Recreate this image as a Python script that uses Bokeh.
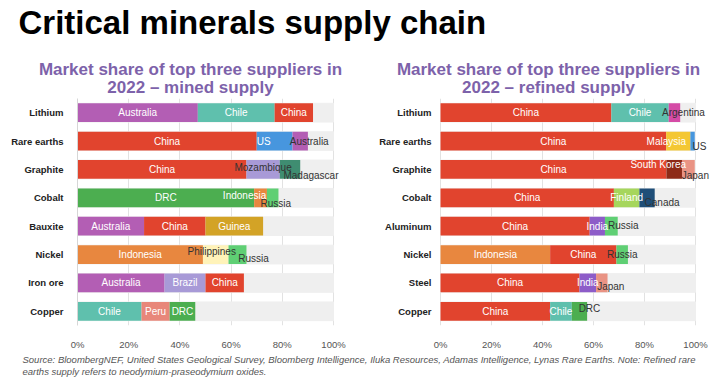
from bokeh.plotting import figure
from bokeh.layouts import column
from bokeh.models import Range1d, FactorRange, ColumnDataSource, Label, FixedTicker
from bokeh.core.properties import value
from bokeh.embed import file_html
from bokeh.resources import INLINE

# ---------------- data ----------------
title_text = "Critical minerals supply chain"
left_title = ["Market share of top three suppliers in", "2022 \u2013 mined supply"]
right_title = ["Market share of top three suppliers in", "2022 \u2013 refined supply"]
source_lines = [
    "Source: BloombergNEF, United States Geological Survey, Bloomberg Intelligence, Iluka Resources, "
    "Adamas Intelligence, Lynas Rare Earths. Note: Refined rare",
    "earths supply refers to neodymium-praseodymium oxides.",
]

left_minerals = ["Lithium", "Rare earths", "Graphite", "Cobalt", "Bauxite", "Nickel", "Iron ore", "Copper"]
left_countries = [
    ["Australia", "Chile", "China"],
    ["China", "US", "Australia"],
    ["China", "Mozambique", "Madagascar"],
    ["DRC", "Indonesia", "Russia"],
    ["Australia", "China", "Guinea"],
    ["Indonesia", "Philippines", "Russia"],
    ["Australia", "Brazil", "China"],
    ["Chile", "Peru", "DRC"],
]
left_shares = [
    [47, 30, 15],
    [70, 14, 6],
    [66, 13, 8],
    [69, 5, 4.5],
    [26, 24, 22.5],
    [49, 10, 7],
    [34, 16, 15],
    [25, 11, 10],
]

right_minerals = ["Lithium", "Rare earths", "Graphite", "Cobalt", "Aluminum", "Nickel", "Steel", "Copper"]
right_countries = [
    ["China", "Chile", "Argentina"],
    ["China", "Malaysia", "US"],
    ["China", "South Korea", "Japan"],
    ["China", "Finland", "Canada"],
    ["China", "India", "Russia"],
    ["Indonesia", "China", "Russia"],
    ["China", "India", "Japan"],
    ["China", "Chile", "DRC"],
]
right_shares = [
    [67, 22.5, 4.5],
    [88.5, 9.5, 1.7],
    [88.6, 6.1, 5],
    [68, 10, 6],
    [58.5, 6, 5],
    [43, 26, 4.5],
    [54.5, 6.5, 4.5],
    [43, 8.5, 6],
]

pct_ticks = [0, 20, 40, 60, 80, 100]

# ---------------- styles ----------------
country_colors = {
    "China": "#e1442e", "Australia": "#b35eb4", "Chile": "#5fc0ad", "US": "#4796de",
    "Mozambique": "#a89ad7", "Brazil": "#a89ad7", "Madagascar": "#3f8d71", "DRC": "#4cae50",
    "Indonesia": "#e8873f", "Russia": "#5fcf74", "Guinea": "#d3a326", "Philippines": "#fff3b9",
    "Peru": "#e8877a", "Argentina": "#d54ba6", "Malaysia": "#f4c733", "South Korea": "#8d2a17",
    "Japan": "#e99384", "Finland": "#a6d65c", "Canada": "#1f4e78", "India": "#8d5cc8",
}
# label placement tweaks: (kind, dx px, dy px); default = white, centred
label_style = {
    ("L", "Rare earths", "US"): ("w", -11, 0),
    ("L", "Rare earths", "Australia"): ("d", 9, 0),
    ("L", "Graphite", "Mozambique"): ("d", 0, -2),
    ("L", "Graphite", "Madagascar"): ("d", 21, 6),
    ("L", "Cobalt", "Indonesia"): ("w", -16, -2),
    ("L", "Cobalt", "Russia"): ("d", 3, 6),
    ("L", "Nickel", "Philippines"): ("d", -4, -3),
    ("L", "Nickel", "Russia"): ("d", 16, 4),
    ("R", "Lithium", "Argentina"): ("d", 9, 0),
    ("R", "Rare earths", "Malaysia"): ("w", -12, 0),
    ("R", "Rare earths", "US"): ("d", 7, 5),
    ("R", "Graphite", "South Korea"): ("w", -16, -5),
    ("R", "Graphite", "Japan"): ("d", 7, 6),
    ("R", "Cobalt", "Canada"): ("d", 15, 5),
    ("R", "Aluminum", "Russia"): ("d", 12, -1),
    ("R", "Nickel", "Russia"): ("d", 0, 0),
    ("R", "Steel", "Japan"): ("d", 9, 4),
    ("R", "Copper", "DRC"): ("d", 10, -3),
}
FONT = value("Liberation Sans")
WHITE, DARK = "#ffffff", "#333333"
PURPLE = "#7d62aa"

# ---------------- geometry ----------------
W = 719
HEAD_H, FOOT_H = 98, 27
BL, BR, BT, BB = 77, 8, 0, 20
FH = 234
MAIN_H = BT + FH + BB
FW = W - BL - BR
L_PX = 2.56          # px per % (left chart)
R_PX = 2.55          # px per % (right chart)
R_ZERO = 363         # px from frame left where right chart starts


def blank(h):
    f = figure(width=W, height=h, x_range=Range1d(0, W), y_range=Range1d(h, 0),
               x_axis_type=None, y_axis_type=None, output_backend="svg",
               toolbar_location=None, min_border=0, frame_align=False)
    f.outline_line_color = None
    f.grid.visible = False
    return f


# ---------------- header ----------------
head = blank(HEAD_H)
head.add_layout(Label(x=18, y=22, text=title_text, text_font="Liberation Sans",
                      text_font_style="bold", text_font_size="33px", text_color="#000000",
                      text_baseline="alphabetic", text_align="left"))
for lines, cx in ((left_title, 190), (right_title, 548)):
    for line, base in zip(lines, (68.5, 86.5)):
        head.add_layout(Label(x=cx, y=base, text=line, text_font="Liberation Sans",
                              text_font_style="bold", text_font_size="17px", text_color=PURPLE,
                              text_baseline="alphabetic", text_align="center"))

# ---------------- main chart ----------------
left_x = Range1d(0, FW / L_PX)
right_x = Range1d(-R_ZERO / R_PX, (FW - R_ZERO) / R_PX)

p = figure(width=W, height=MAIN_H, x_range=left_x,
           y_range=FactorRange(factors=list(reversed(left_minerals))),
           output_backend="svg", toolbar_location=None, frame_align=False,
           min_border_left=BL, min_border_right=BR, min_border_top=BT, min_border_bottom=BB)
p.extra_x_ranges = {"r": right_x}
p.extra_y_ranges = {"r": FactorRange(factors=list(reversed(right_minerals)))}
p.outline_line_color = None

BAR_H = 0.66


def draw(side, minerals, countries, shares, xr, yr):
    kw = {} if side == "L" else {"x_range_name": xr, "y_range_name": yr}
    p.hbar(y=minerals, left=0, right=100, height=BAR_H, color="#efefef", **kw)
    d = dict(y=[], left=[], right=[], color=[], label=[], cx=[], tc=[], dx=[], dy=[])
    for m, cs, vs in zip(minerals, countries, shares):
        acc = 0
        for c, v in zip(cs, vs):
            kind, dx, dy = label_style.get((side, m, c), ("w", 0, 0))
            d["y"].append(m)
            d["left"].append(acc)
            d["right"].append(acc + v)
            d["color"].append(country_colors[c])
            d["label"].append(c)
            d["cx"].append(acc + v / 2)
            d["tc"].append(WHITE if kind == "w" else DARK)
            d["dx"].append(dx)
            d["dy"].append(dy)
            acc += v
    src = ColumnDataSource(d)
    p.hbar(y="y", left="left", right="right", height=BAR_H, fill_color="color",
           line_color=None, source=src, **kw)
    p.text(x="cx", y="y", text="label", x_offset="dx", y_offset="dy", text_color="tc",
           text_align="center", text_baseline="middle", text_font=FONT,
           text_font_size="10px", source=src, **kw)


draw("L", left_minerals, left_countries, left_shares, None, None)
draw("R", right_minerals, right_countries, right_shares, "r", "r")

# right chart category labels
p.text(x=0, y=right_minerals, text=right_minerals, x_offset=-9, text_align="right",
       text_baseline="middle", text_font=FONT, text_font_size="9.5px",
       text_font_style="bold", text_color="#222222", x_range_name="r", y_range_name="r")

# shared x axis: ticks for both charts expressed in the left range units
tick_pos, overrides = [], {}
for t in pct_ticks:
    tick_pos.append(float(t))
    overrides[float(t)] = f"{t}%"
for t in pct_ticks:
    pos = round((R_ZERO + t * R_PX) / L_PX, 4)
    tick_pos.append(pos)
    overrides[pos] = f"{t}%"
ticker = FixedTicker(ticks=tick_pos)
ax = p.xaxis[0]
ax.ticker = ticker
ax.major_label_overrides = overrides
ax.axis_line_color = None
ax.major_tick_line_color = None
ax.minor_tick_line_color = None
ax.major_label_standoff = 7
ax.major_label_text_font = "Liberation Sans"
ax.major_label_text_font_size = "9.5px"
ax.major_label_text_color = "#555555"
p.xgrid.ticker = ticker
p.xgrid.grid_line_color = "#e2e2e2"
p.ygrid.visible = False

ay = p.yaxis[0]
ay.axis_line_color = "#d6d6d6"
ay.major_tick_line_color = None
ay.minor_tick_line_color = None
ay.major_label_standoff = 8
ay.major_label_text_font = "Liberation Sans"
ay.major_label_text_font_style = "bold"
ay.major_label_text_font_size = "9.5px"
ay.major_label_text_color = "#222222"

# ---------------- footer ----------------
foot = blank(FOOT_H)
for line, cy in zip(source_lines, (6.5, 19)):
    foot.add_layout(Label(x=22, y=cy, text=line, text_font="Liberation Sans",
                          text_font_style="italic", text_font_size="9.5px", text_color="#555555",
                          text_baseline="middle", text_align="left"))

layout = column(head, p, foot, spacing=0)
open("out.html", "w").write(file_html(layout, INLINE))
